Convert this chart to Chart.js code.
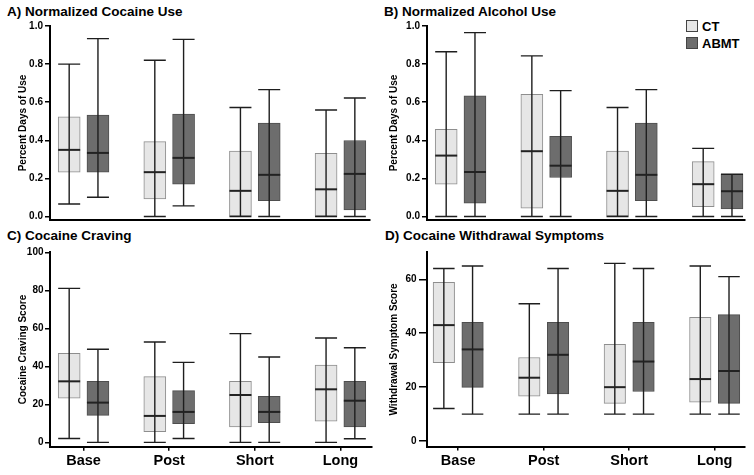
<!DOCTYPE html>
<html>
<head>
<meta charset="utf-8">
<script src="https://cdn.jsdelivr.net/npm/chart.js@4.4.0/dist/chart.umd.min.js"></script>
<style>
  body { margin: 0; width: 754px; height: 475px; position: relative; overflow: hidden; background: #fff;
         font-family: "Liberation Sans", Arial, Helvetica, sans-serif; }
  canvas { position: absolute; }
  .title { position: absolute; font-weight: bold; font-size: 13.5px; line-height: 13.5px; white-space: nowrap; color: #000; }
  .legend { position: absolute; left: 686px; font-weight: bold; font-size: 13px; line-height: 13px; color: #000; white-space: nowrap; }
  .legend span { display: inline-block; width: 10px; height: 10px; border: 1px solid #444; vertical-align: top; margin-right: 4px; }
</style>
</head>
<body>
<div class="title" style="left:7px;top:5px">A) Normalized Cocaine Use</div>
<div class="title" style="left:384px;top:5px">B) Normalized Alcohol Use</div>
<div class="title" style="left:7px;top:229px">C) Cocaine Craving</div>
<div class="title" style="left:385px;top:229px">D) Cocaine Withdrawal Symptoms</div>
<div class="legend" style="top:20px"><span style="background:#e6e6e6"></span>CT</div>
<div class="legend" style="top:37px"><span style="background:#6d6d6d"></span>ABMT</div>

<canvas id="panelA" width="377" height="228" style="left:0;top:0"></canvas>
<canvas id="panelB" width="377" height="228" style="left:377px;top:0"></canvas>
<canvas id="panelC" width="377" height="247" style="left:0;top:228px"></canvas>
<canvas id="panelD" width="377" height="247" style="left:377px;top:228px"></canvas>

<script>
// time points
const timePoints = ["Base", "Post", "Short", "Long"];

// each entry: [min, q1, median, q3, max]
const cocaineUseCT = [[0.066, 0.233, 0.35, 0.524, 0.80], [0.0, 0.093, 0.233, 0.393, 0.82], [0.0, 0.0, 0.135, 0.344, 0.572], [0.0, 0.004, 0.143, 0.332, 0.559]];
const cocaineUseABMT = [[0.101, 0.233, 0.334, 0.533, 0.934], [0.056, 0.17, 0.308, 0.538, 0.93], [0.0, 0.084, 0.219, 0.49, 0.666], [0.0, 0.035, 0.224, 0.399, 0.622]];
const alcoholUseCT = [[0.0, 0.17, 0.32, 0.458, 0.865], [0.0, 0.044, 0.343, 0.642, 0.843], [0.0, 0.0, 0.135, 0.344, 0.572], [0.0, 0.052, 0.17, 0.288, 0.358]];
const alcoholUseABMT = [[0.0, 0.07, 0.234, 0.633, 0.965], [0.0, 0.205, 0.267, 0.421, 0.661], [0.0, 0.084, 0.219, 0.49, 0.666], [0.0, 0.04, 0.133, 0.222, 0.222]];
const cravingCT = [[2, 23.3, 32.1, 46.8, 81], [0, 5.6, 13.9, 34.6, 52.8], [0, 8.1, 24.9, 32.1, 57.2], [0, 11.1, 27.9, 40.7, 54.9]];
const cravingABMT = [[0, 14.2, 20.9, 32.1, 49], [2, 9.8, 16, 27.2, 42.1], [0, 10.4, 16, 24.2, 44.9], [1.9, 8.1, 21.9, 32.1, 49.8]];
const withdrawalCT = [[12.1, 29.1, 43, 58.9, 64], [10, 16.7, 23.5, 31, 50.9], [10, 14, 20, 35.9, 65.9], [10, 14.4, 23, 45.9, 64.9]];
const withdrawalABMT = [[10, 19.9, 34, 44, 64.9], [10, 17.5, 32, 44, 64], [10, 18.4, 29.5, 44, 64], [10, 14, 26, 46.9, 61]];

// y tick labels
const fractionTicks = [0, 0.2, 0.4, 0.6, 0.8, 1.0];
const cravingTicks = [0, 20, 40, 60, 80, 100];
const withdrawalTicks = [0, 20, 40, 60];

const FONT = "'Liberation Sans', Arial, Helvetica, sans-serif";
const GROUP_OFFSET = 0.168;

// whiskers, caps and medians drawn on top of the boxes
const boxWhiskers = {
    id: "boxWhiskers",
    afterDatasetsDraw(chart) {
        const ctx = chart.ctx;
        const y = chart.scales.y;
        chart.data.datasets.forEach((ds, i) => {
            const meta = chart.getDatasetMeta(i);
            meta.data.forEach((bar, j) => {
                const s = ds.stats[j];
                const { x, width } = bar.getProps(["x", "width"], true);
                const half = width / 2;
                const yMin = y.getPixelForValue(s[0]);
                const yMed = y.getPixelForValue(s[2]);
                const yMax = y.getPixelForValue(s[4]);
                ctx.save();
                ctx.strokeStyle = "#1e1e1e";
                ctx.lineWidth = 1.4;
                ctx.beginPath();
                ctx.moveTo(x, yMin);
                ctx.lineTo(x, yMax);
                ctx.moveTo(x - half, yMax);
                ctx.lineTo(x + half, yMax);
                ctx.moveTo(x - half, yMin);
                ctx.lineTo(x + half, yMin);
                ctx.stroke();
                ctx.lineWidth = 2;
                ctx.strokeStyle = "#222";
                ctx.beginPath();
                ctx.moveTo(x - half, yMed);
                ctx.lineTo(x + half, yMed);
                ctx.stroke();
                ctx.restore();
            });
        });
    }
};

function makePanel(id, p) {
    const boxData = (stats, shift) => stats.map((s, i) => ({ x: i + 1 + shift, y: [s[1], s[3]] }));
    const canvas = document.getElementById(id);
    new Chart(canvas.getContext("2d"), {
        type: "bar",
        data: {
            datasets: [
                {
                    label: "CT",
                    data: boxData(p.ct, -GROUP_OFFSET),
                    stats: p.ct,
                    backgroundColor: "#e6e6e6",
                    borderColor: "#8e8e8e",
                    borderWidth: 1,
                    borderSkipped: false,
                    barThickness: p.boxW,
                    grouped: false
                },
                {
                    label: "ABMT",
                    data: boxData(p.abmt, GROUP_OFFSET),
                    stats: p.abmt,
                    backgroundColor: "#6d6d6d",
                    borderColor: "#4e4e4e",
                    borderWidth: 1,
                    borderSkipped: false,
                    barThickness: p.boxW,
                    grouped: false
                }
            ]
        },
        options: {
            responsive: false,
            animation: false,
            devicePixelRatio: 1,
            events: [],
            layout: { padding: { top: p.padTop, right: p.padRight, left: 0, bottom: 0 } },
            plugins: { legend: { display: false }, tooltip: { enabled: false } },
            scales: {
                x: {
                    type: "linear",
                    offset: false,
                    min: p.xMin,
                    max: p.xMax,
                    afterBuildTicks: scale => { scale.ticks = timePoints.map((t, i) => ({ value: i + 1 })); },
                    afterFit: scale => { scale.height = p.xHeight; },
                    border: { display: true, color: "#000", width: 2 },
                    grid: { display: p.showX, offset: false, drawOnChartArea: false, drawTicks: p.showX, tickLength: 4, color: "#000", lineWidth: 1.5 },
                    ticks: {
                        display: p.showX,
                        padding: 2,
                        color: "#000",
                        font: { family: FONT, size: 14.5, weight: "bold" },
                        callback: v => timePoints[Math.round(v) - 1]
                    }
                },
                y: {
                    min: p.yMin,
                    max: p.yMax,
                    afterBuildTicks: scale => { scale.ticks = p.yTicks.map(v => ({ value: v })); },
                    afterFit: scale => { scale.width = 50; },
                    border: { display: true, color: "#000", width: 2 },
                    grid: { drawOnChartArea: false, drawTicks: true, tickLength: p.tickLen, color: "#000", lineWidth: 1.5 },
                    ticks: {
                        padding: p.tickPad,
                        color: "#000",
                        font: { family: FONT, size: 10, weight: "bold" },
                        callback: v => v.toFixed(p.decimals)
                    },
                    title: {
                        display: true,
                        text: p.yTitle,
                        color: "#000",
                        padding: { top: p.titlePad, bottom: 0 },
                        font: { family: FONT, size: 10, weight: "bold" }
                    }
                }
            }
        },
        plugins: [boxWhiskers]
    });
}

makePanel("panelA", {
    ct: cocaineUseCT, abmt: cocaineUseABMT, yMin: -0.018, yMax: 1.0, yTicks: fractionTicks, decimals: 1,
    yTitle: "Percent Days of Use", titlePad: 17.5, tickLen: 5, tickPad: 2,
    xMin: 0.608, xMax: 4.345, showX: false, padTop: 26, xHeight: 8, padRight: 7, boxW: 22
});
makePanel("panelB", {
    ct: alcoholUseCT, abmt: alcoholUseABMT, yMin: -0.018, yMax: 1.0, yTicks: fractionTicks, decimals: 1,
    yTitle: "Percent Days of Use", titlePad: 11, tickLen: 5, tickPad: 2,
    xMin: 0.608, xMax: 4.32, showX: false, padTop: 26, xHeight: 8, padRight: 9, boxW: 22
});
makePanel("panelC", {
    ct: cravingCT, abmt: cravingABMT, yMin: -2.3, yMax: 100, yTicks: cravingTicks, decimals: 0,
    yTitle: "Cocaine Craving Score", titlePad: 17.5, tickLen: 5, tickPad: 1.5,
    xMin: 0.608, xMax: 4.365, showX: true, padTop: 24.3, xHeight: 28.3, padRight: 5.3, boxW: 22
});
makePanel("panelD", {
    ct: withdrawalCT, abmt: withdrawalABMT, yMin: -2, yMax: 70, yTicks: withdrawalTicks, decimals: 0,
    yTitle: "Withdrawal Symptom Score", titlePad: 11.5, tickLen: 8, tickPad: 2.5,
    xMin: 0.635, xMax: 4.355, showX: true, padTop: 24.3, xHeight: 28.5, padRight: 9, boxW: 21.5
});
</script>
</body>
</html>
